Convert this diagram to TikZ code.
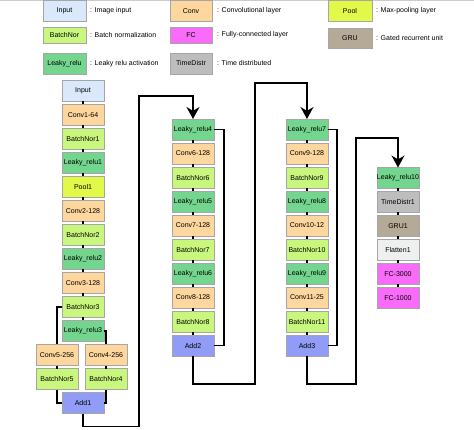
\documentclass[tikz,border=0pt]{standalone}
\usepackage{fontspec}
\newfontfamily\figfont{Liberation Sans}
\usetikzlibrary{positioning,arrows.meta}

\definecolor{inpcol}{HTML}{DAE8FC}
\definecolor{convcol}{HTML}{FDD79E}
\definecolor{bncol}{HTML}{C9F77E}
\definecolor{lrcol}{HTML}{74D68E}
\definecolor{poolcol}{HTML}{E3F94A}
\definecolor{fccol}{HTML}{F96CF9}
\definecolor{tdcol}{HTML}{BDBDBD}
\definecolor{grucol}{HTML}{B5AA98}
\definecolor{flatcol}{HTML}{EEF0F0}
\definecolor{addcol}{HTML}{909CF5}

\begin{document}
\begin{tikzpicture}[x=1pt,y=-1pt,
    font=\figfont\fontsize{7}{8}\selectfont,
    node distance=3pt,
    layer/.style={draw=black!35, line width=0.5pt, minimum width=42pt,
        minimum height=21pt, inner sep=0pt, outer sep=0pt},
    inp/.style={layer, fill=inpcol},
    conv/.style={layer, fill=convcol},
    bn/.style={layer, fill=bncol},
    lrelu/.style={layer, fill=lrcol},
    pool/.style={layer, fill=poolcol},
    fc/.style={layer, fill=fccol},
    tdis/.style={layer, fill=tdcol},
    gru/.style={layer, fill=grucol},
    flat/.style={layer, fill=flatcol},
    add/.style={layer, fill=addcol},
    legtext/.style={anchor=west, inner sep=0pt},
    link/.style={line width=1.6pt},
    route/.style={line width=1.4pt},
    >={Stealth[length=12pt,width=13pt]} % grosse Pfeilspitzen
    ]
        \useasboundingbox (0,0) rectangle (474,430);
        \draw[black!20, line width=1pt] (0,0.5) -- (474,0.5);

        % Legende
        \node[inp, minimum width=43pt] (Linp) at (64.5,11) {Input};
        \node[bn, minimum width=43pt, minimum height=16pt] (Lbn) at (64.5,35) {BatchNor};
        \node[lrelu, minimum width=43pt] (Llr) at (64.5,63.5) {Leaky\_relu};
        \node[conv] (Lconv) at (191,11) {Conv};
        \node[fc, minimum height=16pt] (Lfc) at (191,35) {FC};
        \node[tdis] (Ltd) at (191,63.5) {TimeDistr};
        \node[pool, minimum width=44pt] (Lpool) at (350,11) {Pool};
        \node[gru, minimum width=44pt, minimum height=20pt] (Lgru) at (350,38) {GRU};

        \node[legtext, right=4pt of Linp] {: Image input};
        \node[legtext, right=4pt of Lbn] {: Batch normalization};
        \node[legtext, right=4pt of Llr] {: Leaky relu activation};
        \node[legtext, right=5pt of Lconv] {: Convolutional layer};
        \node[legtext, right=5pt of Lfc] {: Fully-connected layer};
        \node[legtext, right=5pt of Ltd] {: Time distributed};
        \node[legtext, right=4pt of Lpool] {: Max-pooling layer};
        \node[legtext, right=4pt of Lgru] {: Gated recurrent unit};

        % Spalte 1
        \node[inp] (input) at (83,91) {Input};
        \node[conv, below=of input] (conv1) {Conv1-64};
        \node[bn, below=of conv1] (bn1) {BatchNor1};
        \node[lrelu, below=of bn1] (lr1) {Leaky\_relu1};
        \node[pool, below=of lr1] (pool1) {Pool1};
        \node[conv, below=of pool1] (conv2) {Conv2-128};
        \node[bn, below=of conv2] (bn2) {BatchNor2};
        \node[lrelu, below=of bn2] (lr2) {Leaky\_relu2};
        \node[conv, below=of lr2] (conv3) {Conv3-128};
        \node[bn, below=of conv3] (bn3) {BatchNor3};
        \node[lrelu, below=of bn3] (lr3) {Leaky\_relu3};
        \node[conv, below=of lr3, xshift=-26pt] (conv5) {Conv5-256};
        \node[conv, below=of lr3, xshift=23pt] (conv4) {Conv4-256};
        \node[bn, below=of conv5] (bn5) {BatchNor5};
        \node[bn, below=of conv4] (bn4) {BatchNor4};
        \node[add, below=51pt of lr3] (add1) {Add1};

        % Spalte 2
        \node[lrelu] (lr4) at (193,129.5) {Leaky\_relu4};
        \node[conv, below=of lr4] (conv6) {Conv6-128};
        \node[bn, below=of conv6] (bn6) {BatchNor6};
        \node[lrelu, below=of bn6] (lr5) {Leaky\_relu5};
        \node[conv, below=of lr5] (conv7) {Conv7-128};
        \node[bn, below=of conv7] (bn7) {BatchNor7};
        \node[lrelu, below=of bn7] (lr6) {Leaky\_relu6};
        \node[conv, below=of lr6] (conv8) {Conv8-128};
        \node[bn, below=of conv8] (bn8) {BatchNor8};
        \node[add, below=of bn8] (add2) {Add2};

        % Spalte 3
        \node[lrelu] (lr7) at (307,129.5) {Leaky\_relu7};
        \node[conv, below=of lr7] (conv9) {Conv9-128};
        \node[bn, below=of conv9] (bn9) {BatchNor9};
        \node[lrelu, below=of bn9] (lr8) {Leaky\_relu8};
        \node[conv, below=of lr8] (conv10) {Conv10-12};
        \node[bn, below=of conv10] (bn10) {BatchNor10};
        \node[lrelu, below=of bn10] (lr9) {Leaky\_relu9};
        \node[conv, below=of lr9] (conv11) {Conv11-25};
        \node[bn, below=of conv11] (bn11) {BatchNor11};
        \node[add, below=of bn11] (add3) {Add3};

        % Spalte 4
        \node[lrelu] (lr10) at (398,178) {Leaky\_relu10};
        \node[tdis, below=of lr10] (td1) {TimeDistr1};
        \node[gru, below=of td1] (gru1) {GRU1};
        \node[flat, below=of gru1] (flat1) {Flatten1};
        \node[fc, below=of flat1] (fc1) {FC-3000};
        \node[fc, below=of fc1] (fc2) {FC-1000};

        % kurze Verbindungen
        \draw[link] (input) -- (conv1) (conv1) -- (bn1) (bn1) -- (lr1)
                    (lr1) -- (pool1) (pool1) -- (conv2) (conv2) -- (bn2)
                    (bn2) -- (lr2) (lr2) -- (conv3) (conv3) -- (bn3)
                    (bn3) -- (lr3) (conv5) -- (bn5) (conv4) -- (bn4);
        \draw[link] (lr4) -- (conv6) (conv6) -- (bn6) (bn6) -- (lr5)
                    (lr5) -- (conv7) (conv7) -- (bn7) (bn7) -- (lr6)
                    (lr6) -- (conv8) (conv8) -- (bn8) (bn8) -- (add2);
        \draw[link] (lr7) -- (conv9) (conv9) -- (bn9) (bn9) -- (lr8)
                    (lr8) -- (conv10) (conv10) -- (bn10) (bn10) -- (lr9)
                    (lr9) -- (conv11) (conv11) -- (bn11) (bn11) -- (add3);
        \draw[link] (lr10) -- (td1) (td1) -- (gru1) (gru1) -- (flat1)
                    (flat1) -- (fc1) (fc1) -- (fc2);

        % Residual-Zweige
        \draw[route] (bn3.west) -| (conv5.north);
        \draw[route] (lr3.east) -| (conv4.north);
        \draw[route] (bn5.south) |- (add1.west);
        \draw[route] (bn4.south) |- (add1.east);
        \draw[route] (lr4.east) -- ++(10,0) |- (add2.east);
        \draw[route] (lr7.east) -- ++(9,0) |- (add3.east);

        % Uebergaenge
        \draw[route,->] (add1.south) -- ++(0,13) -| (139,96) -| (lr4.north);
        \draw[route,->] (add2.south) -- ++(0,28) -| (255,83) -| (lr7.north);
        \draw[route,->] (add3.south) -- ++(0,28) -| (356,138) -| (lr10.north);
    \end{tikzpicture}
\end{document}
